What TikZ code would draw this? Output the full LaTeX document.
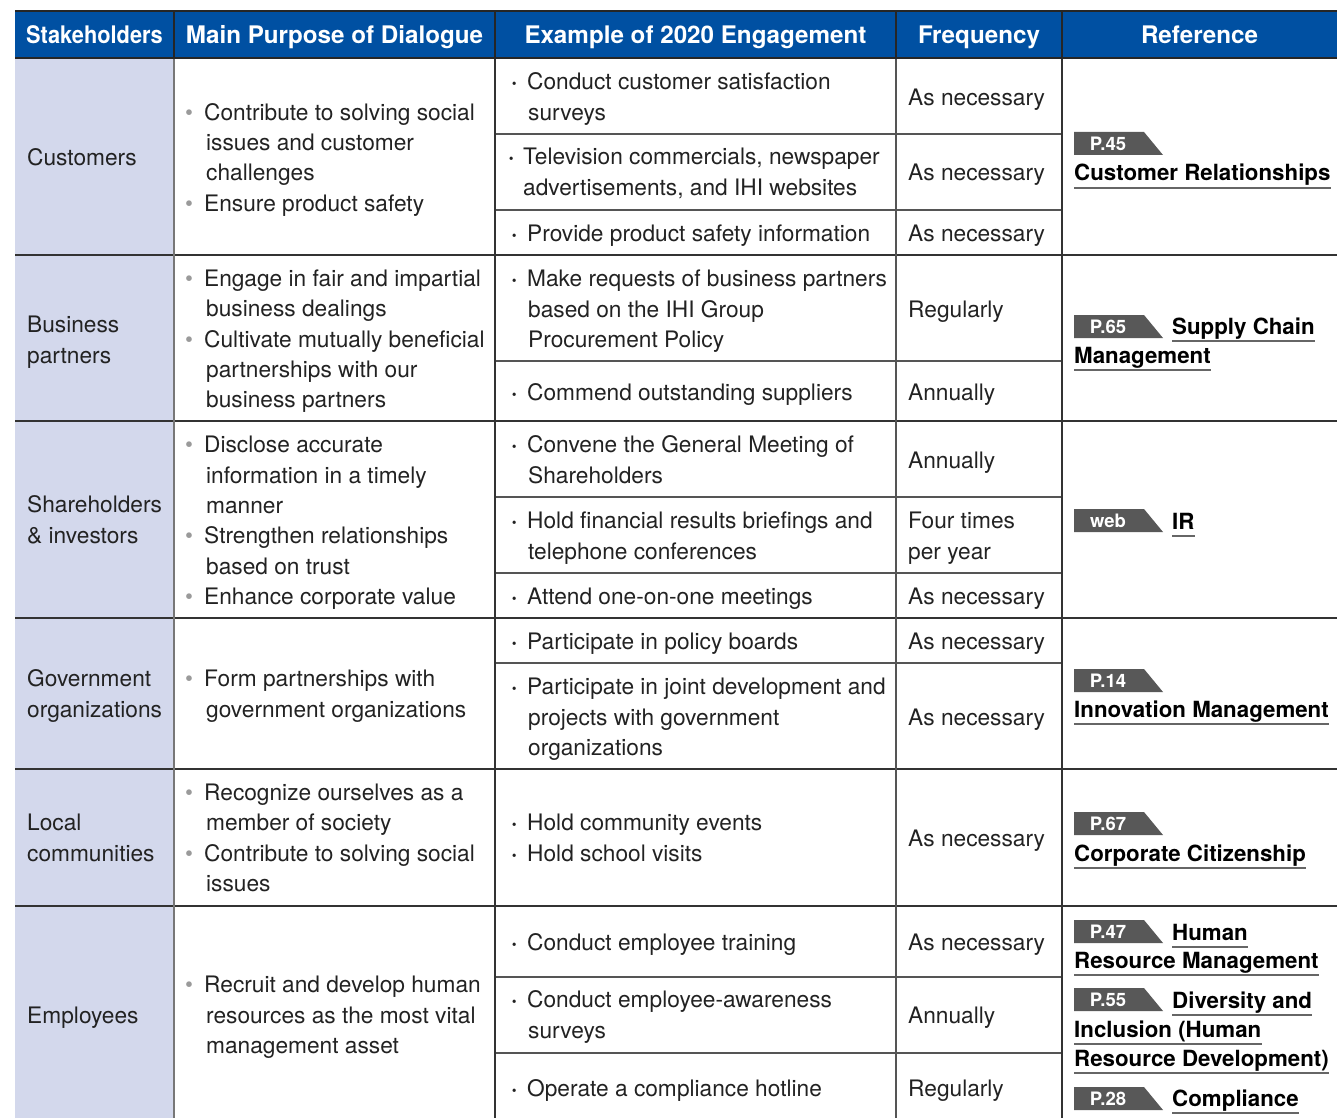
\documentclass[tikz,border=0pt]{standalone}
\usepackage{fontspec}
\setmainfont{TeX Gyre Heros}
\definecolor{hdrblue}{HTML}{0050A2}
\definecolor{lav}{HTML}{D3D8EC}
\definecolor{txt}{HTML}{222222}
\definecolor{bulgray}{HTML}{9A9A9A}
\definecolor{tagfill}{HTML}{585858}
\definecolor{ulgray}{HTML}{666666}
\definecolor{linedark}{HTML}{333333}
\definecolor{linegray}{HTML}{555555}
\definecolor{vgray}{HTML}{777777}
\newcommand\bodyfont{\fontsize{22.7}{30.3}\selectfont}
\newcommand\hdrfont{\fontsize{24.2}{28}\selectfont\bfseries}
\newcommand\lnkfont{\fontsize{22.3}{27}\selectfont\bfseries}
\newcommand\tagfont{\fontsize{18.5}{20}\selectfont\bfseries}
\newcommand\gb{\strut\makebox[19pt][l]{\textcolor{bulgray}{•}}}
\newcommand\gc{\strut\hspace*{21pt}}
\newcommand\kdot{{\bfseries ·}}
\newcommand\kb{\strut\makebox[16pt][l]{\kdot}}
\newcommand\kc{\strut\hspace*{17pt}}
\newcommand\tagat[4]{%
  \fill[tagfill] (#1,#2) -- ++(70,0) -- ++(19,23) -- ++(-89,0) -- cycle;
  \node[tagtxt] (#4) at (#1+34,#2+12) {#3};}
\tikzset{
  body/.style={font=\bodyfont, inner sep=0pt, align=left, anchor=west, text=txt, yshift=-2pt},
  hdr/.style={font=\hdrfont, text=white, inner sep=0pt, anchor=base},
  lnk/.style={font=\lnkfont, inner sep=0pt, anchor=base west, text depth=7pt, text=black},
  ul/.style={draw=ulgray, line width=1.5pt},
  tagtxt/.style={font=\tagfont, text=white, inner sep=0pt, anchor=center},
  mainline/.style={draw=linedark, line width=1.3pt},
  subline/.style={draw=linegray, line width=1.1pt},
  hdrline/.style={draw=black!85, line width=1.8pt},
}
\begin{document}
\begin{tikzpicture}[x=1pt,y=-1pt]
\useasboundingbox (0,0) rectangle (1337,1118);
% fills
\fill[hdrblue] (15,11) rectangle (1337,58);
\fill[lav] (15,58) rectangle (174,1118);
% main row lines
\foreach \yy in {255,421,618,769,906} \draw[mainline] (15,\yy) -- (1337,\yy);
% sub row lines
\foreach \yy in {134,210,361,497,573,663,977,1053} \draw[subline] (495,\yy) -- (1062,\yy);
% verticals
\draw[draw=vgray, line width=1.2pt] (174,58) -- (174,1118);
\draw[mainline] (495,58) -- (495,1118);
\draw[subline] (896,58) -- (896,1118);
\draw[mainline] (1062,58) -- (1062,1118);
% header lines
\draw[hdrline] (15,11) -- (1337,11);
\draw[hdrline] (15,58) -- (1337,58);
\foreach \xx in {174,495,896,1062} \draw[hdrline, line width=1.3pt] (\xx,11) -- (\xx,58);
% header
\node[hdr] (h1) at (94.5,44) {\scalebox{0.9}[1]{Stakeholders}};
\node[hdr] (h2) at (334.5,44) {Main Purpose of Dialogue};
\node[hdr] (h3) at (695.5,44) {Example of 2020 Engagement};
\node[hdr] (h4) at (979,44) {Frequency};
\node[hdr] (h5) at (1199.5,44) {Reference};
% column 1
\node[body] (s1) at (27,157) {\strut Customers};
\node[body] (s2) at (27,340) {\strut Business\\\strut partners};
\node[body] (s3) at (27,520) {\strut Shareholders\\\strut \& investors};
\node[body] (s4) at (27,694) {\strut Government\\\strut organizations};
\node[body] (s5) at (27,838) {\strut Local\\\strut communities};
\node[body] (s6) at (27,1015) {\strut Employees};
% column 2
\node[body] (p1) at (185,157.5) {\gb Contribute to solving social\\\gc issues and customer\\\gc challenges\\\gb Ensure product safety};
\node[body] (p2) at (185,339) {\gb Engage in fair and impartial\\\gc business dealings\\\gb Cultivate mutually beneficial\\\gc partnerships with our\\\gc business partners};
\node[body] (p3) at (185,520.5) {\gb Disclose accurate\\\gc information in a timely\\\gc manner\\\gb Strengthen relationships\\\gc based on trust\\\gb Enhance corporate value};
\node[body] (p4) at (185,694) {\gb Form partnerships with\\\gc government organizations};
\node[body] (p5) at (185,838) {\gb Recognize ourselves as a\\\gc member of society\\\gb Contribute to solving social\\\gc issues};
\node[body] (p6) at (185,1015) {\gb Recruit and develop human\\\gc resources as the most vital\\\gc management asset};
% column 3
\node[body] (e1) at (511,97) {\kb Conduct customer satisfaction\\\kc surveys};
\node[body] (e2) at (508,172) {\strut\makebox[15pt][l]{\kdot}Television commercials, newspaper\\\strut\hspace*{15pt}advertisements, and IHI websites};
\node[body] (e3) at (511,233) {\kb Provide product safety information};
\node[body] (e4) at (511,309) {\kb Make requests of business partners\\\kc based on the IHI Group\\\kc Procurement Policy};
\node[body] (e5) at (511,392) {\kb Commend outstanding suppliers};
\node[body] (e6) at (511,460) {\kb Convene the General Meeting of\\\kc Shareholders};
\node[body] (e7) at (511,536) {\kb Hold financial results briefings and\\\kc telephone conferences};
\node[body] (e8) at (511,596) {\kb Attend one-on-one meetings};
\node[body] (e9) at (511,641) {\kb Participate in policy boards};
\node[body] (e10) at (511,717) {\kb Participate in joint development and\\\kc projects with government\\\kc organizations};
\node[body] (e11) at (511,838) {\kb Hold community events\\\kb Hold school visits};
\node[body] (e12) at (511,942) {\kb Conduct employee training};
\node[body] (e13) at (511,1015) {\kb Conduct employee-awareness\\\kc surveys};
\node[body] (e14) at (511,1088) {\kb Operate a compliance hotline};
% column 4
\node[body] (f1) at (908,97) {\strut As necessary};
\node[body] (f2) at (908,172) {\strut As necessary};
\node[body] (f3) at (908,233) {\strut As necessary};
\node[body] (f4) at (908,309) {\strut Regularly};
\node[body] (f5) at (908,392) {\strut Annually};
\node[body] (f6) at (908,460) {\strut Annually};
\node[body] (f7) at (908,536) {\strut Four times\\\strut per year};
\node[body] (f8) at (908,596) {\strut As necessary};
\node[body] (f9) at (908,641) {\strut As necessary};
\node[body] (f10) at (908,717) {\strut As necessary};
\node[body] (f11) at (908,838) {\strut As necessary};
\node[body] (f12) at (908,942) {\strut As necessary};
\node[body] (f13) at (908,1015) {\strut Annually};
\node[body] (f14) at (908,1088) {\strut Regularly};
% column 5: references
\tagat{1074}{132}{P.45}{t1}
\node[lnk] (r1) at (1074,181) {Customer Relationships};
\tagat{1074}{315}{P.65}{t2}
\node[lnk] (r2a) at (1172,334) {Supply Chain};
\node[lnk] (r2b) at (1074,363) {Management};
\tagat{1074}{509}{web}{t3}
\node[lnk] (r3) at (1172,529) {IR};
\tagat{1074}{669}{P.14}{t4}
\node[lnk] (r4) at (1074,717) {Innovation Management};
\tagat{1074}{812}{P.67}{t5}
\node[lnk] (r5) at (1074,861) {Corporate Citizenship};
\tagat{1074}{920}{P.47}{t6}
\node[lnk] (r6a) at (1172,940) {Human};
\node[lnk] (r6b) at (1074,968) {Resource Management};
\tagat{1074}{988}{P.55}{t7}
\node[lnk] (r7a) at (1172,1008) {Diversity and};
\node[lnk] (r7b) at (1074,1037) {Inclusion (Human};
\node[lnk] (r7c) at (1074,1066) {Resource Development)};
\tagat{1074}{1087}{P.28}{t8}
\node[lnk] (r8) at (1172,1106) {Compliance};
\foreach \n in {r1,r2a,r2b,r3,r4,r5,r6a,r6b,r7a,r7b,r7c,r8}
  \draw[ul] (\n.south west) -- (\n.south east);
\end{tikzpicture}
\end{document}
